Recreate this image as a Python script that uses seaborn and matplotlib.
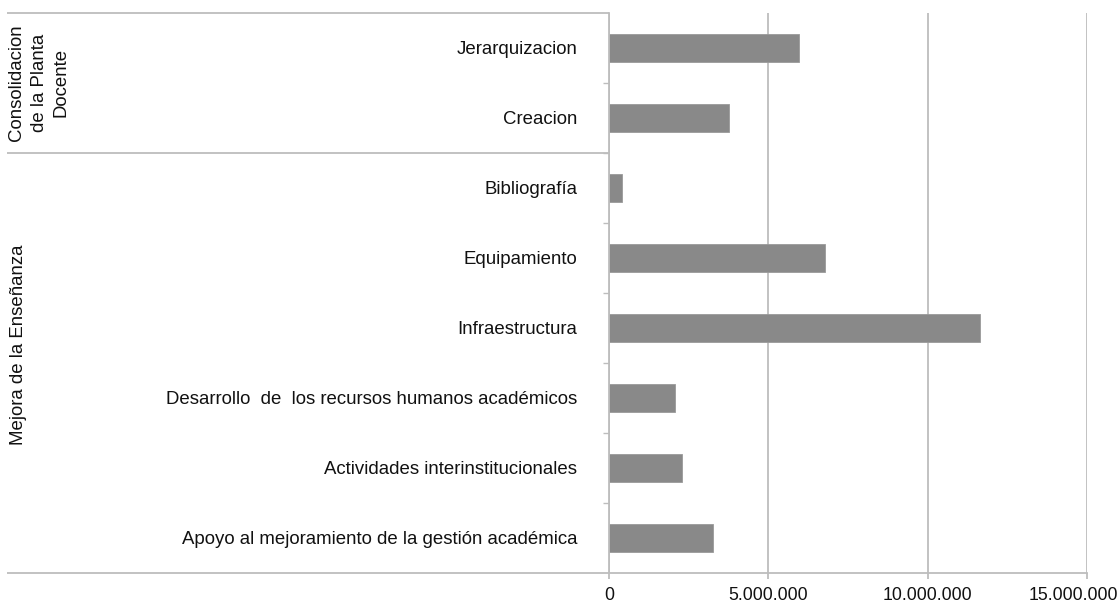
import matplotlib
matplotlib.use("Agg")
import matplotlib.pyplot as plt
import matplotlib.transforms as mtransforms
from matplotlib.ticker import FuncFormatter, FixedLocator
import seaborn as sns
import pandas as pd

# Program lines, grouped by component
categories = [
    "Jerarquizacion",
    "Creacion",
    "Bibliografía",
    "Equipamiento",
    "Infraestructura",
    "Desarrollo  de  los recursos humanos académicos",
    "Actividades interinstitucionales",
    "Apoyo al mejoramiento de la gestión académica",
]
amounts = [5960000, 3750000, 420000, 6780000, 11640000, 2070000, 2300000, 3270000]
groups = ["Consolidacion\nde la Planta\nDocente", "Mejora de la Enseñanza"]
group_sizes = [2, 6]
x_ticks = [0, 5000000, 10000000, 15000000]

sns.set_theme(style="white")
plt.rcParams["font.family"] = ["Liberation Sans", "DejaVu Sans"]

W, H = 1119, 603
fig = plt.figure(figsize=(W / 100, H / 100), dpi=100)
ax = fig.add_axes([609 / W, (H - 572.7) / H, (1087 - 609) / W, (572.7 - 12.5) / H])

df = pd.DataFrame({"categoria": categories, "monto": amounts})
sns.barplot(data=df, y="categoria", x="monto", orient="h", color="#898989",
            width=0.4, edgecolor="#9a9a9a", linewidth=0.6, saturation=1, ax=ax)

n = len(categories)
ax.set_xlim(x_ticks[0], x_ticks[-1])
ax.set_ylim(n - 0.5, -0.5)
ax.set_xlabel("")
ax.set_ylabel("")

line_col = "#bdbdbd"
txt_col = "#111111"
ax.xaxis.set_major_locator(FixedLocator(x_ticks))
ax.xaxis.set_major_formatter(FuncFormatter(lambda v, p: f"{int(v):,}".replace(",", ".")))
ax.grid(axis="x", color=line_col, linewidth=1.3)
ax.grid(axis="y", visible=False)
ax.set_axisbelow(True)

for side in ["top", "right"]:
    ax.spines[side].set_visible(False)
for side in ["left", "bottom"]:
    ax.spines[side].set_color(line_col)
    ax.spines[side].set_linewidth(1.3)

fs = 13.4
ax.tick_params(axis="x", which="major", bottom=True, length=4, width=1.3, color=line_col,
               labelsize=12.8, labelcolor=txt_col, pad=6)
ax.tick_params(axis="y", which="major", left=False, length=0, labelsize=fs,
               labelcolor=txt_col, pad=23)
# small ticks at boundaries between categories
bounds = [k - 0.5 for k in range(1, n)]
ax.yaxis.set_minor_locator(FixedLocator(bounds))
ax.tick_params(axis="y", which="minor", left=True, length=4.5, width=1.0, color=line_col)

# keep the last value label inside the figure
fig.canvas.draw()
last = ax.get_xticklabels()[-1]
last.set_transform(last.get_transform() + mtransforms.ScaledTranslation(-14 / 100, 0, fig.dpi_scale_trans))

# group separators and group labels on the left
trans = mtransforms.blended_transform_factory(fig.transFigure, ax.transData)
x0, x1 = 7 / W, 609 / W
edges = [-0.5]
for s in group_sizes:
    edges.append(edges[-1] + s)
for yv in edges:
    ax.plot([x0, x1], [yv, yv], transform=trans, color=line_col, linewidth=1.3,
            clip_on=False, solid_capstyle="butt")

ax.text(39 / W, 0.5, groups[0], transform=trans, rotation=90, ha="center", va="center",
        multialignment="center", fontsize=fs, color=txt_col, linespacing=1.4)
ax.text(19 / W, 4.25, groups[1], transform=trans, rotation=90, ha="center", va="center",
        fontsize=fs, color=txt_col)

fig.savefig("out.png", dpi=100, facecolor="white")
